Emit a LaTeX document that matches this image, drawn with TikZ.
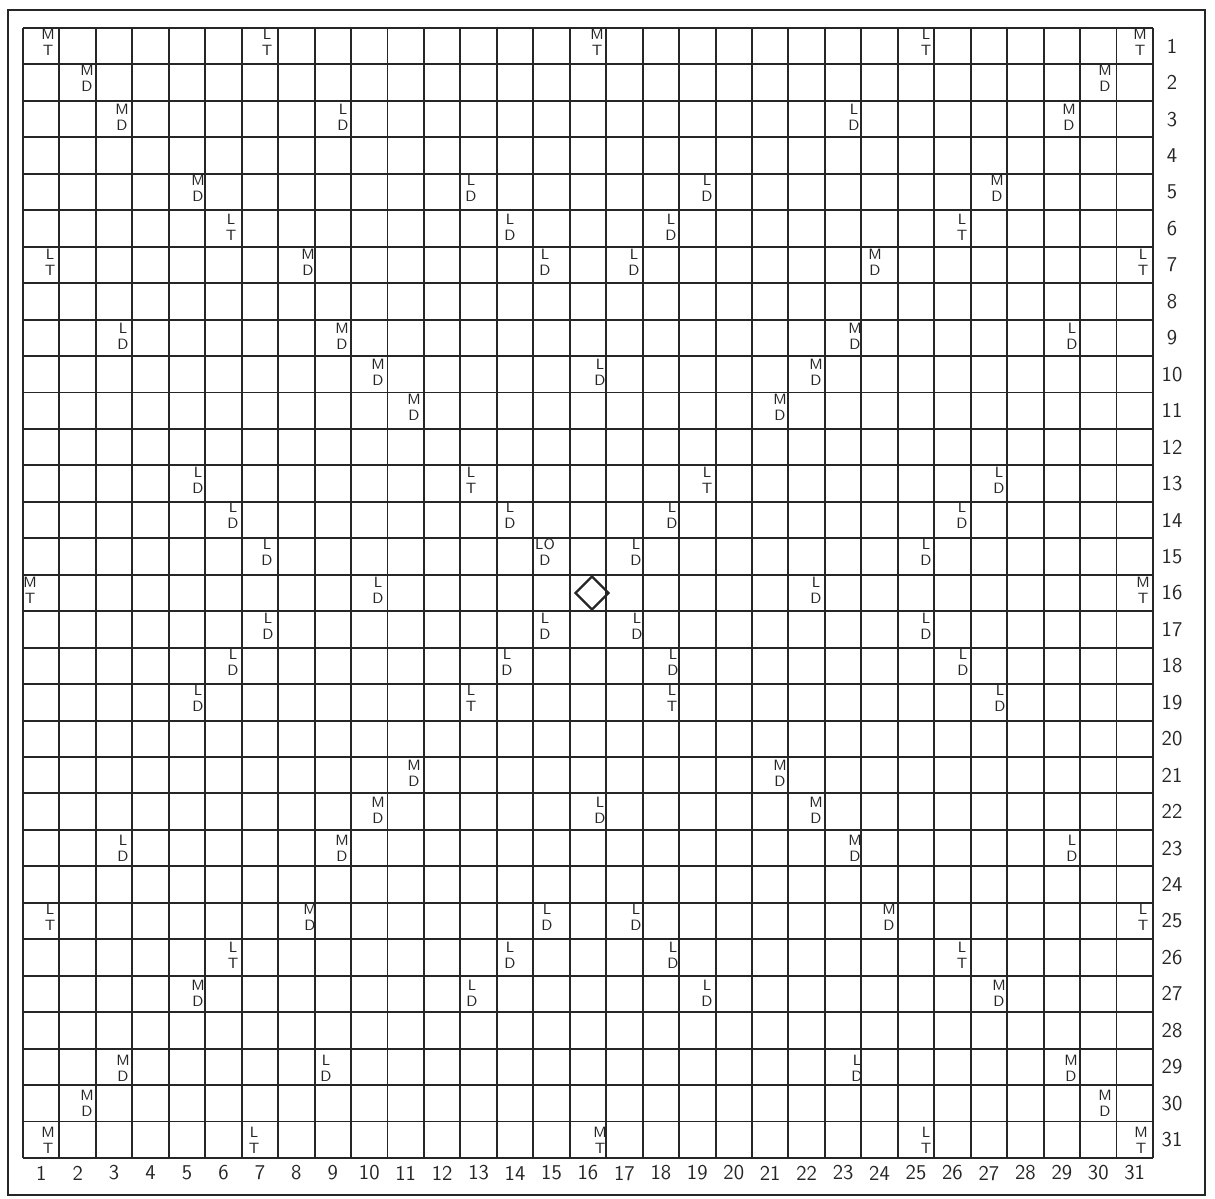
\documentclass[tikz,border=0pt]{standalone}
\begin{document}
\begin{tikzpicture}[x=0.02cm,y=-0.02cm,
  gridline/.style={line width=1.1pt, draw=black!85},
  frameline/.style={line width=1.3pt, draw=black!85},
  prem/.style={font=\sffamily\fontsize{8.5}{9}\selectfont, align=center, inner sep=0pt, text=black!85},
  num/.style={font=\sffamily\fontsize{12}{12}\selectfont, inner sep=0pt, text=black!85}]
\useasboundingbox (0,0) rectangle (1215,1199);
% outer frame
\draw[frameline] (8,10) rectangle (1205,1195);
% grid
\foreach \i in {0,...,31}{
  \draw[gridline] ({23+36.45*\i},28) -- ({23+36.45*\i},1158);
  \draw[gridline] (23,{28+36.45*\i}) -- (1153,{28+36.45*\i});
}
% row numbers
\foreach \r in {1,...,31}{
  \node[num] (row\r) at (1172,{28+36.45*(\r-0.5)}) {\r};
}
% column numbers
\foreach \c in {1,...,31}{
  \node[num] (col\c) at ({23+36.45*(\c-0.5)},1173) {\c};
}
% premium squares
\foreach \x/\y/\t [count=\k] in {
  48/42/{M\\T}, 267/42/{L\\T}, 597/42/{M\\T}, 926/42/{L\\T}, 1140/42/{M\\T},
  87/78/{M\\D}, 1105/78/{M\\D},
  122/117/{M\\D}, 343/117/{L\\D}, 854/117/{L\\D}, 1069/117/{M\\D},
  198/188/{M\\D}, 471/188/{L\\D}, 707/188/{L\\D}, 997/188/{M\\D},
  231/227/{L\\T}, 510/227/{L\\D}, 671/227/{L\\D}, 962/227/{L\\T},
  50/262/{L\\T}, 308/262/{M\\D}, 545/262/{L\\D}, 634/262/{L\\D}, 875/262/{M\\D}, 1143/262/{L\\T},
  123/336/{L\\D}, 342/336/{M\\D}, 855/336/{M\\D}, 1072/336/{L\\D},
  378/372/{M\\D}, 600/372/{L\\D}, 816/372/{M\\D},
  414/407/{M\\D}, 780/407/{M\\D},
  198/480/{L\\D}, 471/480/{L\\T}, 707/480/{L\\T}, 999/480/{L\\D},
  233/515/{L\\D}, 510/515/{L\\D}, 672/515/{L\\D}, 962/515/{L\\D},
  267/552/{L\\D}, 545/552/{LO\\D}, 636/552/{L\\D}, 926/552/{L\\D},
  30/590/{M\\T}, 378/590/{L\\D}, 816/590/{L\\D}, 1143/590/{M\\T},
  268/626/{L\\D}, 545/626/{L\\D}, 637/626/{L\\D}, 926/626/{L\\D},
  233/662/{L\\D}, 507/662/{L\\D}, 673/662/{L\\D}, 963/662/{L\\D},
  198/698/{L\\D}, 471/698/{L\\T}, 672/698/{L\\T}, 1000/698/{L\\D},
  414/773/{M\\D}, 780/773/{M\\D},
  378/810/{M\\D}, 600/810/{L\\D}, 816/810/{M\\D},
  123/848/{L\\D}, 342/848/{M\\D}, 855/848/{M\\D}, 1072/848/{L\\D},
  50/917/{L\\T}, 310/917/{M\\D}, 547/917/{L\\D}, 636/917/{L\\D}, 889/917/{M\\D}, 1143/917/{L\\T},
  233/955/{L\\T}, 510/955/{L\\D}, 673/955/{L\\D}, 962/955/{L\\T},
  198/993/{M\\D}, 472/993/{L\\D}, 707/993/{L\\D}, 999/993/{M\\D},
  123/1068/{M\\D}, 326/1068/{L\\D}, 857/1068/{L\\D}, 1071/1068/{M\\D},
  87/1103/{M\\D}, 1105/1103/{M\\D},
  48/1140/{M\\T}, 254/1140/{L\\T}, 600/1140/{M\\T}, 926/1140/{L\\T}, 1141/1140/{M\\T}}{
  \node[prem] (sq\k) at (\x,\y) {\t};
}
% start square
\draw[line width=1.3pt, draw=black!85] (592,576.5) -- (608.5,593) -- (592,609.5) -- (575.5,593) -- cycle;
\coordinate (start) at (592,593);
\end{tikzpicture}
\end{document}
